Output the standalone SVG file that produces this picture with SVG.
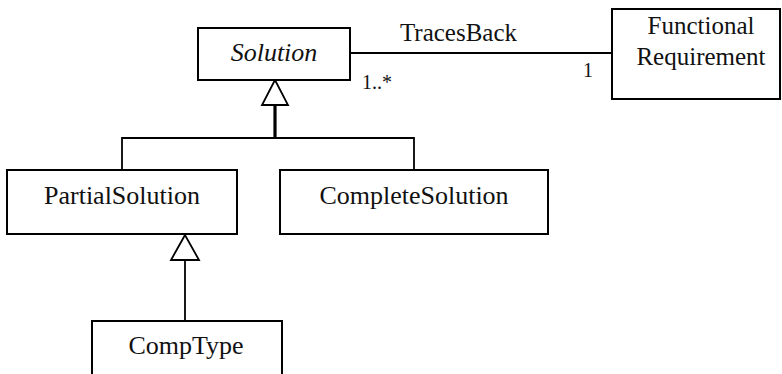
<svg xmlns="http://www.w3.org/2000/svg" width="782" height="374" viewBox="0 0 782 374">
<style>
.box{fill:#fff;stroke:#000;stroke-width:2}
.ln{fill:none;stroke:#000;stroke-width:1.8}
.thick{fill:none;stroke:#000;stroke-width:3.2}
.tri{fill:#fff;stroke:#000;stroke-width:1.8;stroke-linejoin:miter}
text{font-family:"Liberation Serif","Times New Roman",serif;fill:#111;text-anchor:middle}
.cls{font-size:26px}
.lbl{font-size:25px}
.mult{font-size:20px;text-anchor:start}
</style>
<rect width="782" height="374" fill="#fff"/>
<g id="connectors">
<line class="ln" x1="350" y1="53" x2="612" y2="53"/>
<line class="thick" x1="275" y1="104" x2="275" y2="138"/>
<polyline class="ln" points="122,170 122,138 414,138 414,170"/>
<line class="ln" x1="185" y1="259" x2="185" y2="321"/>
<polygon class="tri" points="275,80 262,105 288,105"/>
<polygon class="tri" points="185,235 171,260 199,260"/>
<text class="lbl" x="458.5" y="41">TracesBack</text>
<text class="mult" x="362" y="89">1..*</text>
<text class="mult" x="583" y="77">1</text>
</g>
<g id="solution">
<rect class="box" x="198" y="28" width="152" height="52"/>
<text class="cls" x="274" y="61" font-style="italic">Solution</text>
</g>
<g id="functional-requirement">
<rect class="box" x="612" y="9" width="168" height="90"/>
<text class="lbl" x="701" y="34">Functional</text>
<text class="lbl" x="701" y="65">Requirement</text>
</g>
<g id="partial-solution">
<rect class="box" x="7" y="170" width="230" height="64"/>
<text class="cls" x="122" y="204">PartialSolution</text>
</g>
<g id="complete-solution">
<rect class="box" x="280" y="170" width="268" height="64"/>
<text class="cls" x="414" y="204">CompleteSolution</text>
</g>
<g id="comp-type">
<rect class="box" x="92" y="321" width="190" height="62"/>
<text class="cls" x="186" y="354">CompType</text>
</g>
</svg>
